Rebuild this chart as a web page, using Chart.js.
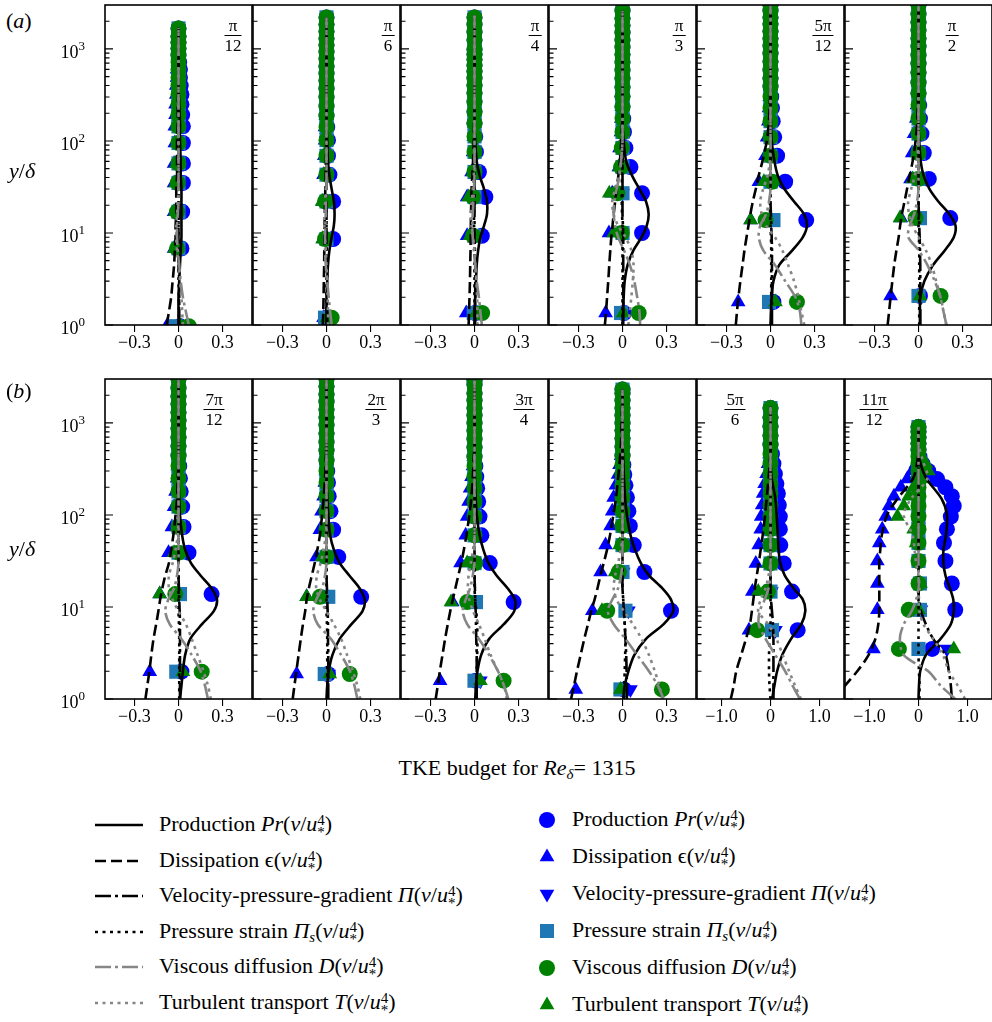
<!DOCTYPE html>
<html>
<head>
<meta charset="utf-8">
<title>TKE budget</title>
<script src="https://cdn.jsdelivr.net/npm/chart.js@4.4.1/dist/chart.umd.min.js"></script>
<style>
  html, body { margin: 0; padding: 0; background: #fff; }
  #fig { position: relative; width: 992px; height: 1022px; overflow: hidden;
         font-family: "Liberation Serif", "DejaVu Serif", serif; color: #000; }
  #fig canvas { position: absolute; }
  .txt { position: absolute; white-space: nowrap; line-height: 24px; font-size: 22px; }
  .txt sub { font-size: 15px; vertical-align: -4px; line-height: 0; }
  .frac { position: absolute; font-size: 17px; line-height: 17px; text-align: center; transform: translateX(-50%); }
  .frac .n { display: block; padding: 0 2px 1px; border-bottom: 1.2px solid #000; }
  .frac .d { display: block; padding-top: 1px; }
  .ss { display: inline-block; vertical-align: -6px; font-size: 15px; line-height: 12px; }
  .ss span { display: block; }
  svg.sym { position: absolute; overflow: visible; }
</style>
</head>
<body>
<div id="fig"></div>
<script>
// --- data: curves on a shared y/delta grid (last point = top of each profile) ---
const lineY = [1, 1.4, 2, 3, 4.5, 6.5, 9, 12, 16, 22, 30, 42, 60, 100, 150, 250, 400, 600];
const topY = [1700, 2200, 2300, 2600, 3000, 3000, 3000, 3000, 2900, 2300, 1500, 900];

const lPr = [
  [0, 0, 0, 0.005, 0.01, 0.015, 0.02, 0.02, 0.02, 0.02, 0.02, 0.015, 0.015, 0.01, 0.01, 0.005, 0, 0, 0],
  [0, 0, 0, 0.005, 0.01, 0.02, 0.035, 0.05, 0.055, 0.05, 0.035, 0.02, 0.01, 0.005, 0, 0, 0, 0, 0],
  [0, 0, 0.005, 0.01, 0.015, 0.025, 0.04, 0.065, 0.085, 0.085, 0.065, 0.035, 0.015, 0.005, 0, 0, 0, 0, 0],
  [0, 0.005, 0.008, 0.015, 0.035, 0.075, 0.13, 0.165, 0.178, 0.16, 0.115, 0.065, 0.025, 0.008, 0, 0, 0, 0, 0],
  [0, 0.003, 0.008, 0.02, 0.06, 0.15, 0.22, 0.248, 0.228, 0.16, 0.095, 0.05, 0.027, 0.008, 0.003, 0, 0, 0, 0],
  [0.01, 0.01, 0.012, 0.04, 0.1, 0.18, 0.24, 0.252, 0.21, 0.135, 0.075, 0.035, 0.015, 0.005, 0, 0, 0, 0, 0],
  [0.01, 0.02, 0.03, 0.045, 0.08, 0.16, 0.24, 0.262, 0.225, 0.15, 0.085, 0.045, 0.025, 0.01, 0.005, 0, 0, 0, 0],
  [0, 0.005, 0.015, 0.04, 0.09, 0.17, 0.245, 0.26, 0.225, 0.155, 0.09, 0.05, 0.025, 0.012, 0.006, 0, 0, 0, 0],
  [0.005, 0.01, 0.02, 0.045, 0.1, 0.2, 0.27, 0.275, 0.225, 0.15, 0.095, 0.06, 0.035, 0.015, 0.008, 0.003, 0, 0, 0],
  [0.005, 0.015, 0.04, 0.08, 0.16, 0.28, 0.345, 0.33, 0.27, 0.18, 0.125, 0.085, 0.055, 0.03, 0.018, 0.01, 0.005, 0, 0],
  [0.034, 0.08, 0.135, 0.24, 0.42, 0.63, 0.71, 0.66, 0.47, 0.29, 0.2, 0.165, 0.15, 0.125, 0.1, 0.025, 0, 0, 0],
  [0, 0.01, 0.035, 0.15, 0.45, 0.66, 0.72, 0.71, 0.64, 0.55, 0.51, 0.51, 0.56, 0.58, 0.47, 0.16, 0.02, 0, 0]
];
const lDi = [
  [-0.08, -0.065, -0.05, -0.04, -0.03, -0.025, -0.02, -0.02, -0.015, -0.015, -0.015, -0.01, -0.01, -0.01, -0.005, -0.005, 0, 0, 0],
  [-0.025, -0.022, -0.02, -0.018, -0.016, -0.015, -0.014, -0.013, -0.012, -0.01, -0.008, -0.006, -0.004, -0.002, 0, 0, 0, 0, 0],
  [-0.04, -0.037, -0.034, -0.031, -0.029, -0.027, -0.026, -0.025, -0.024, -0.022, -0.02, -0.015, -0.01, -0.005, -0.003, 0, 0, 0, 0],
  [-0.12, -0.112, -0.105, -0.097, -0.09, -0.083, -0.076, -0.068, -0.06, -0.05, -0.04, -0.028, -0.018, -0.008, -0.003, 0, 0, 0, 0],
  [-0.236, -0.228, -0.218, -0.205, -0.19, -0.177, -0.163, -0.15, -0.137, -0.12, -0.1, -0.08, -0.055, -0.025, -0.012, -0.005, 0, 0, 0],
  [-0.21, -0.2, -0.19, -0.178, -0.165, -0.15, -0.135, -0.125, -0.113, -0.095, -0.078, -0.06, -0.04, -0.02, -0.01, -0.005, 0, 0, 0],
  [-0.225, -0.212, -0.198, -0.185, -0.17, -0.152, -0.137, -0.125, -0.11, -0.09, -0.065, -0.05, -0.035, -0.02, -0.01, -0.005, 0, 0, 0],
  [-0.23, -0.218, -0.205, -0.19, -0.175, -0.16, -0.145, -0.135, -0.12, -0.1, -0.08, -0.062, -0.045, -0.03, -0.02, -0.01, -0.005, 0, 0],
  [-0.264, -0.25, -0.236, -0.218, -0.2, -0.182, -0.165, -0.148, -0.13, -0.11, -0.09, -0.072, -0.055, -0.035, -0.022, -0.012, -0.006, 0, 0],
  [-0.35, -0.33, -0.31, -0.285, -0.26, -0.235, -0.213, -0.19, -0.17, -0.15, -0.128, -0.105, -0.085, -0.062, -0.045, -0.03, -0.018, -0.01, 0],
  [-0.81, -0.75, -0.7, -0.6, -0.5, -0.42, -0.38, -0.35, -0.32, -0.28, -0.24, -0.2, -0.16, -0.11, -0.08, -0.04, -0.01, 0, 0],
  [-1.75, -1.5, -1.25, -1.02, -0.88, -0.82, -0.8, -0.8, -0.8, -0.8, -0.8, -0.78, -0.75, -0.64, -0.43, -0.11, -0.02, 0, 0]
];
const lVp = [
  [0.005, 0.005, 0.005, 0.005, 0, 0, 0, 0, 0, 0, 0, 0, 0, 0, 0, 0, 0, 0, 0],
  [0.005, 0.005, 0.005, 0.005, 0.003, 0, 0, 0, 0, 0, 0, 0, 0, 0, 0, 0, 0, 0, 0],
  [0.005, 0.005, 0.005, 0.005, 0.005, 0.003, 0, 0, 0, 0, 0, 0, 0, 0, 0, 0, 0, 0, 0],
  [0.005, 0.005, 0.005, 0.005, 0.005, 0.005, 0.005, 0.003, 0, 0, 0, 0, 0, 0, 0, 0, 0, 0, 0],
  [0.01, 0.01, 0.01, 0.01, 0.01, 0.01, 0.008, 0.005, 0.003, 0, 0, 0, 0, 0, 0, 0, 0, 0, 0],
  [0.012, 0.012, 0.012, 0.012, 0.012, 0.01, 0.008, 0.005, 0.003, 0, 0, 0, 0, 0, 0, 0, 0, 0, 0],
  [0.01, 0.01, 0.01, 0.01, 0.01, 0.01, 0.008, 0.005, 0.003, 0, 0, 0, 0, 0, 0, 0, 0, 0, 0],
  [0.012, 0.012, 0.012, 0.012, 0.01, 0.01, 0.008, 0.005, 0.003, 0, 0, 0, 0, 0, 0, 0, 0, 0, 0],
  [0.015, 0.015, 0.015, 0.015, 0.012, 0.01, 0.008, 0.005, 0.003, 0, 0, 0, 0, 0, 0, 0, 0, 0, 0],
  [0.03, 0.03, 0.028, 0.025, 0.02, 0.015, 0.01, 0.005, 0, 0, 0, 0, 0, 0, 0, 0, 0, 0, 0],
  [0.06, 0.06, 0.06, 0.06, 0.06, 0.05, 0.03, 0.01, 0, 0, 0, 0, 0, 0, 0, 0, 0, 0, 0],
  [0.68, 0.66, 0.62, 0.55, 0.3, 0.15, 0.05, 0.01, 0, 0, 0, 0, 0, 0, 0, 0, 0, 0, 0]
];
const lPs = [
  [0.003, 0.003, 0.003, 0, 0, 0, 0, 0, 0, 0, 0, 0, 0, 0, 0, 0, 0, 0, 0],
  [0, 0, 0, 0, 0, 0, 0, 0, 0, 0, 0, 0, 0, 0, 0, 0, 0, 0, 0],
  [0, 0, 0, 0, 0, 0, 0, -0.003, -0.003, 0, 0, 0, 0, 0, 0, 0, 0, 0, 0],
  [0, 0, 0, 0, 0, 0, 0, 0, -0.003, -0.005, -0.005, -0.003, 0, 0, 0, 0, 0, 0, 0],
  [0.005, 0.005, 0.005, 0.005, 0.005, 0.005, 0.003, 0, -0.003, -0.003, 0, 0, 0, 0, 0, 0, 0, 0, 0],
  [0.005, 0.005, 0.005, 0.005, 0.005, 0.005, 0.003, 0, 0, 0, 0, 0, 0, 0, 0, 0, 0, 0, 0],
  [0.005, 0.005, 0.005, 0.005, 0.005, 0.003, 0, 0, 0, 0, 0, 0, 0, 0, 0, 0, 0, 0, 0],
  [0.005, 0.005, 0.005, 0.005, 0.005, 0.003, 0, 0, 0, 0, 0, 0, 0, 0, 0, 0, 0, 0, 0],
  [0.01, 0.012, 0.015, 0.018, 0.02, 0.018, 0.012, 0.005, 0, 0, 0, 0, 0, 0, 0, 0, 0, 0, 0],
  [0.01, 0.012, 0.015, 0.018, 0.02, 0.015, 0.01, 0.005, 0, 0, 0, 0, 0, 0, 0, 0, 0, 0, 0],
  [0, -0.02, -0.03, -0.03, -0.02, 0, 0, 0, 0, 0, 0, 0, 0, 0, 0, 0, 0, 0, 0],
  [0.02, 0.02, 0.01, 0, 0, 0, 0, 0, 0, 0, 0, 0, 0, 0, 0, 0, 0, 0, 0]
];
const lVd = [
  [0.07, 0.05, 0.03, 0.015, 0.005, -0.005, -0.01, -0.01, -0.005, 0, 0, 0, 0, 0, 0, 0, 0, 0, 0],
  [0.035, 0.025, 0.015, 0.005, -0.005, -0.01, -0.01, -0.008, -0.005, -0.003, 0, 0, 0, 0, 0, 0, 0, 0, 0],
  [0.05, 0.04, 0.03, 0.015, 0.005, -0.005, -0.012, -0.015, -0.012, -0.008, -0.004, 0, 0, 0, 0, 0, 0, 0, 0],
  [0.12, 0.115, 0.1, 0.08, 0.05, 0.01, -0.03, -0.05, -0.06, -0.055, -0.04, -0.02, -0.01, 0, 0, 0, 0, 0, 0],
  [0.21, 0.2, 0.17, 0.1, 0.03, -0.05, -0.08, -0.07, -0.03, -0.01, 0, 0, 0, 0, 0, 0, 0, 0, 0],
  [0.19, 0.17, 0.15, 0.11, 0.06, 0, -0.07, -0.06, -0.03, -0.01, 0, 0, 0, 0, 0, 0, 0, 0, 0],
  [0.2, 0.18, 0.15, 0.09, 0.02, -0.06, -0.09, -0.07, -0.03, -0.01, 0, 0, 0, 0, 0, 0, 0, 0, 0],
  [0.21, 0.19, 0.16, 0.1, 0.03, -0.06, -0.09, -0.07, -0.03, -0.01, 0, 0, 0, 0, 0, 0, 0, 0, 0],
  [0.23, 0.2, 0.16, 0.1, 0.03, -0.05, -0.08, -0.06, -0.03, -0.012, 0, 0, 0, 0, 0, 0, 0, 0, 0],
  [0.28, 0.24, 0.18, 0.1, 0.02, -0.06, -0.1, -0.07, -0.03, -0.01, 0, 0, 0, 0, 0, 0, 0, 0, 0],
  [0.6, 0.45, 0.3, 0.1, -0.1, -0.24, -0.22, -0.12, -0.04, 0, 0, 0, 0, 0, 0, 0, 0, 0, 0],
  [0.75, 0.45, 0.2, -0.3, -0.38, -0.3, -0.14, -0.05, 0, 0, 0, 0, 0, 0, 0, 0, 0, 0, 0]
];
const lTt = [
  [0.03, 0.025, 0.02, 0.01, 0, -0.01, -0.015, -0.015, -0.01, -0.005, 0, 0, 0, 0, 0, 0, 0, 0, 0],
  [0.01, 0.01, 0.008, 0.005, 0, -0.005, -0.01, -0.015, -0.015, -0.01, -0.005, 0, 0, 0, 0, 0, 0, 0, 0],
  [0.02, 0.02, 0.018, 0.012, 0.005, 0, -0.01, -0.02, -0.025, -0.02, -0.012, -0.005, 0, 0, 0, 0, 0, 0, 0],
  [0.04, 0.05, 0.06, 0.07, 0.075, 0.06, 0.02, -0.03, -0.06, -0.07, -0.05, -0.025, -0.01, 0, 0, 0, 0, 0, 0],
  [0.23, 0.21, 0.19, 0.16, 0.12, 0.08, 0.03, -0.03, -0.06, -0.07, -0.05, -0.02, -0.005, 0, 0, 0, 0, 0, 0],
  [0.19, 0.17, 0.15, 0.12, 0.09, 0.05, 0, -0.04, -0.065, -0.07, -0.05, -0.025, -0.01, 0, 0, 0, 0, 0, 0],
  [0.22, 0.2, 0.17, 0.13, 0.09, 0.05, 0, -0.04, -0.065, -0.065, -0.04, -0.02, -0.005, 0, 0, 0, 0, 0, 0],
  [0.23, 0.21, 0.18, 0.14, 0.1, 0.05, 0, -0.045, -0.07, -0.065, -0.04, -0.02, -0.005, 0, 0, 0, 0, 0, 0],
  [0.22, 0.2, 0.16, 0.11, 0.07, 0.03, -0.01, -0.035, -0.045, -0.04, -0.025, -0.01, 0, 0, 0, 0, 0, 0, 0],
  [0.27, 0.25, 0.22, 0.18, 0.13, 0.07, 0.01, -0.04, -0.06, -0.05, -0.03, -0.012, 0, 0, 0, 0, 0, 0, 0],
  [0.62, 0.5, 0.38, 0.25, 0.12, -0.05, -0.25, -0.2, -0.1, -0.04, 0, 0, 0, 0, 0, 0, 0, 0, 0],
  [0.95, 0.8, 0.62, 0.5, 0.3, 0.1, 0.02, 0, 0.02, 0, -0.05, -0.08, -0.12, -0.3, -0.15, 0.18, 0.08, 0, 0]
];

// --- data: symbols (own y/delta stations per panel) ---
const mY = [
  [0.97, 6.8, 17, 35, 57, 95, 144, 192, 250, 320, 400, 490, 600, 720, 860, 1010, 1180, 1370, 1670],
  [1.2, 8.6, 22, 43, 69, 102, 142, 188, 240, 300, 370, 450, 540, 650, 780, 930, 1100, 1300, 1550, 1850, 2200],
  [1.35, 9.3, 24.6, 46, 76, 112, 156, 207, 266, 331, 404, 484, 572, 666, 767, 876, 992, 1246, 1530, 1840, 2200],
  [1.35, 10, 27, 52, 84, 125, 175, 235, 305, 385, 480, 590, 720, 870, 1050, 1250, 1500, 1800, 2150, 2600],
  [1.78, 13.8, 36, 69, 110, 164, 228, 303, 390, 480, 590, 730, 890, 1080, 1300, 1560, 1860, 2200, 2600, 3000],
  [2.07, 14.5, 38.7, 74, 120, 175, 245, 330, 430, 550, 690, 860, 1060, 1300, 1600, 1950, 2400, 3000],
  [1.98, 13.8, 38.9, 74, 123, 180, 250, 340, 440, 560, 700, 870, 1070, 1300, 1600, 1950, 2400, 3000],
  [1.87, 12.9, 35, 69, 110, 160, 225, 300, 390, 500, 620, 770, 950, 1150, 1400, 1700, 2050, 2500, 3000],
  [1.58, 11.3, 30, 60, 96, 140, 195, 260, 340, 430, 540, 670, 820, 1000, 1200, 1450, 1750, 2100, 2600, 2900],
  [1.27, 9.1, 24, 47, 76, 110, 155, 210, 275, 350, 440, 550, 680, 830, 1000, 1200, 1450, 1750, 2100, 2300],
  [5.6, 14.7, 29.7, 47, 70, 96, 128, 171, 218, 280, 360, 460, 580, 730, 920, 1150, 1450],
  [3.5, 9.3, 18, 31.6, 49.6, 70, 96, 125, 160, 200, 245, 300, 360, 430, 510, 600, 700, 800, 900]
];
const mPr = [
  [0.01, 0.02, 0.025, 0.03, 0.03, 0.03, 0.03, 0.025, 0.02, 0.02, 0.015, 0.01, 0.01, 0.005, 0, 0, 0, 0, 0],
  [0.005, 0.045, 0.045, 0.02, 0.01, 0.01, 0.005, 0, 0, 0, 0, 0, 0, 0, 0, 0, 0, 0, 0, 0, 0],
  [0.005, 0.05, 0.074, 0.03, 0.01, 0.005, 0, 0, 0, 0, 0, 0, 0, 0, 0, 0, 0, 0, 0, 0, 0],
  [0.01, 0.133, 0.133, 0.054, 0.02, 0.01, 0.005, 0, 0, 0, 0, 0, 0, 0, 0, 0, 0, 0, 0, 0],
  [0.02, 0.243, 0.1, 0.045, 0.025, 0.015, 0.01, 0.005, 0, 0, 0, 0, 0, 0, 0, 0, 0, 0, 0, 0],
  [0.01, 0.216, 0.07, 0.036, 0.02, 0.01, 0.005, 0, 0, 0, 0, 0, 0, 0, 0, 0, 0, 0],
  [0.02, 0.225, 0.068, 0.034, 0.025, 0.015, 0.01, 0.005, 0, 0, 0, 0, 0, 0, 0, 0, 0, 0],
  [0.01, 0.236, 0.08, 0.045, 0.027, 0.015, 0.01, 0.005, 0, 0, 0, 0, 0, 0, 0, 0, 0, 0, 0],
  [0.01, 0.266, 0.104, 0.047, 0.034, 0.025, 0.018, 0.012, 0.006, 0, 0, 0, 0, 0, 0, 0, 0, 0, 0, 0],
  [0.01, 0.33, 0.149, 0.077, 0.05, 0.04, 0.03, 0.02, 0.012, 0.006, 0, 0, 0, 0, 0, 0, 0, 0, 0, 0],
  [0.554, 0.44, 0.27, 0.2, 0.19, 0.19, 0.17, 0.15, 0.12, 0.09, 0.06, 0.03, 0, 0, 0, 0, 0],
  [0.28, 0.75, 0.68, 0.55, 0.52, 0.58, 0.66, 0.72, 0.68, 0.55, 0.38, 0.2, 0.08, 0.02, 0, 0, 0, 0, 0]
];
const mDi = [
  [-0.08, -0.03, -0.03, -0.03, -0.03, -0.025, -0.025, -0.02, -0.02, -0.015, -0.015, -0.01, -0.01, -0.005, -0.005, 0, 0, 0, 0],
  [-0.02, -0.025, -0.025, -0.02, -0.015, -0.01, -0.01, -0.005, 0, 0, 0, 0, 0, 0, 0, 0, 0, 0, 0, 0, 0],
  [-0.056, -0.05, -0.05, -0.02, -0.01, -0.005, 0, 0, 0, 0, 0, 0, 0, 0, 0, 0, 0, 0, 0, 0, 0],
  [-0.115, -0.092, -0.07, -0.025, -0.02, -0.01, -0.008, -0.005, 0, 0, 0, 0, 0, 0, 0, 0, 0, 0, 0, 0],
  [-0.22, -0.135, -0.079, -0.034, -0.023, -0.015, -0.01, -0.005, 0, 0, 0, 0, 0, 0, 0, 0, 0, 0, 0, 0],
  [-0.19, -0.12, -0.054, -0.043, -0.03, -0.015, -0.01, 0, 0, 0, 0, 0, 0, 0, 0, 0, 0, 0],
  [-0.196, -0.128, -0.068, -0.045, -0.03, -0.02, -0.01, -0.005, 0, 0, 0, 0, 0, 0, 0, 0, 0, 0],
  [-0.203, -0.135, -0.068, -0.045, -0.034, -0.02, -0.012, -0.005, 0, 0, 0, 0, 0, 0, 0, 0, 0, 0, 0],
  [-0.234, -0.151, -0.095, -0.06, -0.05, -0.04, -0.03, -0.02, -0.01, -0.005, 0, 0, 0, 0, 0, 0, 0, 0, 0, 0],
  [-0.318, -0.205, -0.149, -0.115, -0.081, -0.07, -0.06, -0.045, -0.03, -0.02, -0.01, 0, 0, 0, 0, 0, 0, 0, 0, 0],
  [-0.44, -0.37, -0.3, -0.24, -0.2, -0.19, -0.17, -0.15, -0.12, -0.08, -0.05, -0.02, 0, 0, 0, 0, 0],
  [-0.92, -0.84, -0.84, -0.84, -0.8, -0.74, -0.67, -0.6, -0.5, -0.36, -0.23, -0.13, -0.05, 0, 0, 0, 0, 0, 0]
];
const mVp = [
  [0.005, 0.01, 0.005, 0, 0, 0, 0, 0, 0, 0, 0, 0, 0, 0, 0, 0, 0, 0, 0],
  [0, 0, 0, 0, 0, 0, 0, 0, 0, 0, 0, 0, 0, 0, 0, 0, 0, 0, 0, 0, 0],
  [0.005, 0, 0, 0, 0, 0, 0, 0, 0, 0, 0, 0, 0, 0, 0, 0, 0, 0, 0, 0, 0],
  [0.01, 0, 0, 0, 0, 0, 0, 0, 0, 0, 0, 0, 0, 0, 0, 0, 0, 0, 0, 0],
  [0.01, 0.005, 0, 0, 0, 0, 0, 0, 0, 0, 0, 0, 0, 0, 0, 0, 0, 0, 0, 0],
  [0.01, 0.005, 0, 0, 0, 0, 0, 0, 0, 0, 0, 0, 0, 0, 0, 0, 0, 0],
  [0.015, 0.005, 0, 0, 0, 0, 0, 0, 0, 0, 0, 0, 0, 0, 0, 0, 0, 0],
  [0.015, 0.005, 0, 0, 0, 0, 0, 0, 0, 0, 0, 0, 0, 0, 0, 0, 0, 0, 0],
  [0.04, 0.01, 0, 0, 0, 0, 0, 0, 0, 0, 0, 0, 0, 0, 0, 0, 0, 0, 0, 0],
  [0.054, 0.04, 0.005, 0, 0, 0, 0, 0, 0, 0, 0, 0, 0, 0, 0, 0, 0, 0, 0, 0],
  [0.1, 0.02, 0, 0, 0, 0, 0, 0, 0, 0, 0, 0, 0, 0, 0, 0, 0],
  [0.58, 0.05, 0, 0, 0, 0, 0, 0, 0, 0, 0, 0, 0, 0, 0, 0, 0, 0, 0]
];
const mPs = [
  [-0.02, 0, 0, 0, 0, 0, 0, 0, 0, 0, 0, 0, 0, 0, 0, 0, 0, 0, 0],
  [-0.01, 0, 0, 0, 0, 0, 0, 0, 0, 0, 0, 0, 0, 0, 0, 0, 0, 0, 0, 0, 0],
  [-0.005, 0, 0, 0, 0, 0, 0, 0, 0, 0, 0, 0, 0, 0, 0, 0, 0, 0, 0, 0, 0],
  [-0.01, 0, 0, 0, 0, 0, 0, 0, 0, 0, 0, 0, 0, 0, 0, 0, 0, 0, 0, 0],
  [-0.01, 0.02, 0, 0, 0, 0, 0, 0, 0, 0, 0, 0, 0, 0, 0, 0, 0, 0, 0, 0],
  [0, 0.01, 0, 0, 0, 0, 0, 0, 0, 0, 0, 0, 0, 0, 0, 0, 0, 0],
  [-0.015, 0.01, 0, 0, 0, 0, 0, 0, 0, 0, 0, 0, 0, 0, 0, 0, 0, 0],
  [-0.012, 0.012, 0, 0, 0, 0, 0, 0, 0, 0, 0, 0, 0, 0, 0, 0, 0, 0, 0],
  [0, 0.01, 0, 0, 0, 0, 0, 0, 0, 0, 0, 0, 0, 0, 0, 0, 0, 0, 0, 0],
  [-0.014, 0.02, 0, 0, 0, 0, 0, 0, 0, 0, 0, 0, 0, 0, 0, 0, 0, 0, 0, 0],
  [0.03, 0, 0, 0, 0, 0, 0, 0, 0, 0, 0, 0, 0, 0, 0, 0, 0],
  [0, 0.03, 0.03, 0, 0, 0, 0, 0, 0, 0, 0, 0, 0, 0, 0, 0, 0, 0, 0]
];
const mVd = [
  [0.07, -0.01, -0.01, -0.005, 0, 0, 0, 0, 0, 0, 0, 0, 0, 0, 0, 0, 0, 0, 0],
  [0.035, -0.01, -0.01, 0, 0, 0, 0, 0, 0, 0, 0, 0, 0, 0, 0, 0, 0, 0, 0, 0, 0],
  [0.052, -0.01, -0.01, 0, 0, 0, 0, 0, 0, 0, 0, 0, 0, 0, 0, 0, 0, 0, 0, 0, 0],
  [0.11, -0.005, -0.035, -0.01, -0.005, 0, 0, 0, 0, 0, 0, 0, 0, 0, 0, 0, 0, 0, 0, 0],
  [0.18, -0.034, 0.01, 0, 0, 0, 0, 0, 0, 0, 0, 0, 0, 0, 0, 0, 0, 0, 0, 0],
  [0.15, -0.02, 0, 0, 0, 0, 0, 0, 0, 0, 0, 0, 0, 0, 0, 0, 0, 0],
  [0.158, -0.022, 0, 0, 0, 0, 0, 0, 0, 0, 0, 0, 0, 0, 0, 0, 0, 0],
  [0.158, -0.045, 0, 0, 0, 0, 0, 0, 0, 0, 0, 0, 0, 0, 0, 0, 0, 0, 0],
  [0.198, -0.05, 0.005, 0, 0, 0, 0, 0, 0, 0, 0, 0, 0, 0, 0, 0, 0, 0, 0, 0],
  [0.268, -0.104, -0.025, 0, 0, 0, 0, 0, 0, 0, 0, 0, 0, 0, 0, 0, 0, 0, 0, 0],
  [-0.27, -0.054, 0, 0, 0, 0, 0, 0, 0, 0, 0, 0, 0, 0, 0, 0, 0],
  [-0.4, -0.2, 0, 0, 0, 0, 0, 0, 0, 0, 0, 0, 0, 0, 0, 0, 0, 0, 0]
];
const mTt = [
  [0.02, -0.025, -0.02, -0.02, -0.015, -0.01, -0.01, -0.005, 0, 0, 0, 0, 0, 0, 0, 0, 0, 0, 0],
  [0.005, -0.025, -0.03, -0.01, -0.005, 0, 0, 0, 0, 0, 0, 0, 0, 0, 0, 0, 0, 0, 0, 0, 0],
  [0.01, -0.03, -0.04, -0.01, 0, 0, 0, 0, 0, 0, 0, 0, 0, 0, 0, 0, 0, 0, 0, 0, 0],
  [0.005, -0.06, -0.09, -0.02, -0.01, -0.005, 0, 0, 0, 0, 0, 0, 0, 0, 0, 0, 0, 0, 0, 0],
  [0.034, -0.135, -0.045, -0.01, 0, 0, 0, 0, 0, 0, 0, 0, 0, 0, 0, 0, 0, 0, 0, 0],
  [0.01, -0.126, -0.04, -0.01, 0, 0, 0, 0, 0, 0, 0, 0, 0, 0, 0, 0, 0, 0],
  [0.03, -0.128, -0.03, -0.01, 0, 0, 0, 0, 0, 0, 0, 0, 0, 0, 0, 0, 0, 0],
  [0.022, -0.135, -0.03, -0.01, 0, 0, 0, 0, 0, 0, 0, 0, 0, 0, 0, 0, 0, 0, 0],
  [0.04, -0.16, -0.05, -0.01, 0, 0, 0, 0, 0, 0, 0, 0, 0, 0, 0, 0, 0, 0, 0, 0],
  [-0.014, -0.14, -0.05, -0.02, 0, 0, 0, 0, 0, 0, 0, 0, 0, 0, 0, 0, 0, 0, 0, 0],
  [-0.3, -0.25, -0.05, 0, 0, 0, 0, 0, 0, 0, 0, 0, 0, 0, 0, 0, 0],
  [0.72, 0, 0.04, 0, -0.05, -0.1, -0.43, -0.3, -0.2, -0.1, 0.1, 0.2, 0.15, 0.05, 0, 0, 0, 0, 0]
];

// --- axes / labels ---
const xNarrow = [-0.5, 0.5], xWideR = [-1.5, 1.5];
const wideX = [false, false, false, false, false, false, false, false, false, false, true, true];
const xTicksN = [-0.3, 0, 0.3], xLabelsN = ['\u22120.3', '0', '0.3'];
const xTicksW = [-1, 0, 1], xLabelsW = ['\u22121.0', '0', '1.0'];
const yMajor = [1, 10, 100, 1000], yExp = ['0', '1', '2', '3'];
const yMult = [1, 2, 3, 4, 5, 6, 7, 8, 9];
const fracNum = ['π', 'π', 'π', 'π', '5π', 'π', '7π', '2π', '3π', '', '5π', '11π'];
const fracDen = ['12', '6', '4', '3', '12', '2', '12', '3', '4', '', '6', '12'];

// --- layout ---
const FONT = '"Liberation Serif", "DejaVu Serif", serif';
const panelLeft = [105, 253, 401, 549, 697, 845];
const rowTop = [5, 379];
const PW = 147, PH = 320;
const fracCX = [128, 135, 134, 130, 126, 107, 109, 123, 123, 0, 38, 29];

const BLUE = '#0000ff', STEEL = '#1f77b4', GREEN = '#008000', GRAY = '#868686';
const LW = 2.6;
const DASH = [11, 5], DASHDOT = [16, 4, 3, 4], DOT = [3, 4.5];

const framePlugin = {
    id: 'frame',
    afterDatasetsDraw(chart, args, opts) {
        const { ctx, chartArea: a } = chart;
        const y = chart.scales.y;
        ctx.save();
        ctx.strokeStyle = '#000';
        ctx.lineWidth = 1.1;
        ctx.beginPath();
        yMajor.forEach(v => {
            yMult.forEach(m => {
                const val = v * m;
                if (val >= y.max) return;
                const py = y.getPixelForValue(val);
                ctx.moveTo(a.left, py);
                ctx.lineTo(a.left + (m === 1 ? 8 : 4.5), py);
            });
        });
        ctx.stroke();
        ctx.lineWidth = 1.6;
        ctx.strokeRect(a.left, a.top, a.right - a.left, a.bottom - a.top);

        if (opts.labels) {
            ctx.fillStyle = '#000';
            ctx.textAlign = 'right';
            ctx.textBaseline = 'alphabetic';
            yMajor.forEach((v, k) => {
                const py = y.getPixelForValue(v);
                ctx.font = '13px ' + FONT;
                const ew = ctx.measureText(yExp[k]).width;
                ctx.fillText(yExp[k], a.left - 20, py + 1);
                ctx.font = '18px ' + FONT;
                ctx.fillText('10', a.left - 20 - ew, py + 9);
            });
        }
        ctx.restore();
    }
};

const fig = document.getElementById('fig');

function pts(xs, ys) {
    return ys.map((yv, k) => ({ x: xs[k], y: yv }));
}

function makePanel(i) {
    const row = Math.floor(i / 6), col = i % 6;
    const padL = col === 0 ? 70 : 3, padR = 3, padT = 8, xh = 40;
    const w = padL + PW + padR, h = padT + PH + xh;

    const cv = document.createElement('canvas');
    cv.width = w; cv.height = h;
    cv.style.width = w + 'px'; cv.style.height = h + 'px';
    cv.style.left = (panelLeft[col] - padL) + 'px';
    cv.style.top = (rowTop[row] - padT) + 'px';
    fig.appendChild(cv);

    const ly = lineY.concat([topY[i]]);
    const lines = [
        { d: lTt[i], c: GRAY, dash: DOT },
        { d: lVd[i], c: GRAY, dash: DASHDOT },
        { d: lPs[i], c: '#000', dash: DOT },
        { d: lVp[i], c: '#000', dash: DASHDOT },
        { d: lDi[i], c: '#000', dash: DASH },
        { d: lPr[i], c: '#000', dash: [] }
    ];
    const marks = [
        { d: mTt[i], c: GREEN, s: 'triangle', r: 8.5, rot: 0 },
        { d: mVd[i], c: GREEN, s: 'circle', r: 8, rot: 0 },
        { d: mPs[i], c: STEEL, s: 'rect', r: 10, rot: 0 },
        { d: mVp[i], c: BLUE, s: 'triangle', r: 8.5, rot: 180 },
        { d: mDi[i], c: BLUE, s: 'triangle', r: 8.5, rot: 0 },
        { d: mPr[i], c: BLUE, s: 'circle', r: 8, rot: 0 }
    ];

    const datasets = lines.map(l => ({
        data: pts(l.d, ly),
        showLine: true,
        borderColor: l.c,
        borderWidth: LW,
        borderDash: l.dash,
        borderCapStyle: 'butt',
        tension: 0.3,
        pointRadius: 0,
        fill: false,
        clip: 0
    })).concat(marks.map(m => ({
        data: pts(m.d, mY[i]),
        showLine: false,
        pointStyle: m.s,
        pointRadius: m.r,
        pointRotation: m.rot,
        pointBackgroundColor: m.c,
        pointBorderWidth: 0,
        clip: 0
    })));

    const wide = wideX[i];
    const xt = wide ? xTicksW : xTicksN;
    const xl = wide ? xLabelsW : xLabelsN;
    const xr = wide ? xWideR : xNarrow;

    new Chart(cv, {
        type: 'scatter',
        data: { datasets },
        options: {
            responsive: false,
            animation: false,
            devicePixelRatio: 1,
            events: [],
            layout: { padding: { left: padL, right: padR, top: padT, bottom: 0 }, autoPadding: false },
            plugins: {
                legend: { display: false },
                tooltip: { enabled: false },
                frame: { labels: col === 0 }
            },
            scales: {
                x: {
                    type: 'linear',
                    position: 'bottom',
                    min: xr[0], max: xr[1],
                    afterBuildTicks: s => { s.ticks = xt.map(v => ({ value: v })); },
                    afterFit: s => { s.height = xh; },
                    grid: { drawOnChartArea: false, drawTicks: true, tickLength: 7, color: '#000', lineWidth: 1.1 },
                    border: { display: false },
                    ticks: {
                        autoSkip: false, maxRotation: 0, padding: 0,
                        color: '#000', font: { family: FONT, size: 18 },
                        callback: (v, idx) => xl[idx]
                    }
                },
                y: { type: 'logarithmic', min: 1, max: 3000, display: false }
            }
        },
        plugins: [framePlugin]
    });

    if (fracNum[i]) {
        const f = document.createElement('div');
        f.className = 'frac';
        f.style.left = (panelLeft[col] + fracCX[i]) + 'px';
        f.style.top = (rowTop[row] + 12) + 'px';
        f.innerHTML = '<span class="n">' + fracNum[i] + '</span><span class="d">' + fracDen[i] + '</span>';
        fig.appendChild(f);
    }
}

for (let i = 0; i < 12; i++) makePanel(i);

// --- texts ---
function addText(html, left, top, extra) {
    const d = document.createElement('div');
    d.className = 'txt';
    d.style.left = left + 'px';
    d.style.top = top + 'px';
    if (extra) Object.assign(d.style, extra);
    d.innerHTML = html;
    fig.appendChild(d);
    return d;
}
addText('(<i>a</i>)', 6, 9);
addText('(<i>b</i>)', 6, 379);
addText('<i>y</i>/<i>δ</i>', 9, 159);
addText('<i>y</i>/<i>δ</i>', 9, 537);
addText('TKE budget for <i>Re</i><sub><i>δ</i></sub>= 1315', 40, 756, { width: '954px', textAlign: 'center' });

// --- legend ---
const legNames = ['Production', 'Dissipation', 'Velocity-pressure-gradient', 'Pressure strain', 'Viscous diffusion', 'Turbulent transport'];
const legSyms = ['<i>Pr</i>', 'ϵ', '<i>Π</i>', '<i>Π</i><sub><i>s</i></sub>', '<i>D</i>', '<i>T</i>'];
const unitHtml = '(<i>ν</i>/<i>u</i><span class="ss"><span>4</span><span>*</span></span>)';
const legLine = [
    { c: '#000', dash: [] }, { c: '#000', dash: DASH }, { c: '#000', dash: DASHDOT },
    { c: '#000', dash: DOT }, { c: GRAY, dash: DASHDOT }, { c: GRAY, dash: DOT }
];
const legMark = [
    { c: BLUE, shape: 'circle' }, { c: BLUE, shape: 'up' }, { c: BLUE, shape: 'down' },
    { c: STEEL, shape: 'square' }, { c: GREEN, shape: 'circle' }, { c: GREEN, shape: 'up' }
];
const legLeftY = [825, 861, 896, 932, 967, 1003];
const legRightY = [820, 857, 894, 931, 968, 1005];

function shapeSvg(shape, c) {
    if (shape === 'circle') return '<circle cx="10" cy="10" r="8" fill="' + c + '"/>';
    if (shape === 'up') return '<polygon points="10,1.5 2.64,14.25 17.36,14.25" fill="' + c + '"/>';
    if (shape === 'down') return '<polygon points="10,18.5 2.64,5.75 17.36,5.75" fill="' + c + '"/>';
    return '<rect x="3" y="3" width="14" height="14" fill="' + c + '"/>';
}

legNames.forEach((name, k) => {
    const label = name + ' ' + legSyms[k] + unitHtml;
    const ly = legLeftY[k], ry = legRightY[k];
    const s = legLine[k];
    fig.insertAdjacentHTML('beforeend',
        '<svg class="sym" width="48" height="12" style="left:95px;top:' + (ly - 6) + 'px">' +
        '<line x1="0" y1="6" x2="48" y2="6" stroke="' + s.c + '" stroke-width="' + LW + '"' +
        (s.dash.length ? ' stroke-dasharray="' + s.dash.join(' ') + '"' : '') + '/></svg>');
    addText(label, 159, ly - 13);
    fig.insertAdjacentHTML('beforeend',
        '<svg class="sym" width="20" height="20" style="left:537px;top:' + (ry - 10) + 'px">' +
        shapeSvg(legMark[k].shape, legMark[k].c) + '</svg>');
    addText(label, 572, ry - 13);
});
</script>
</body>
</html>
